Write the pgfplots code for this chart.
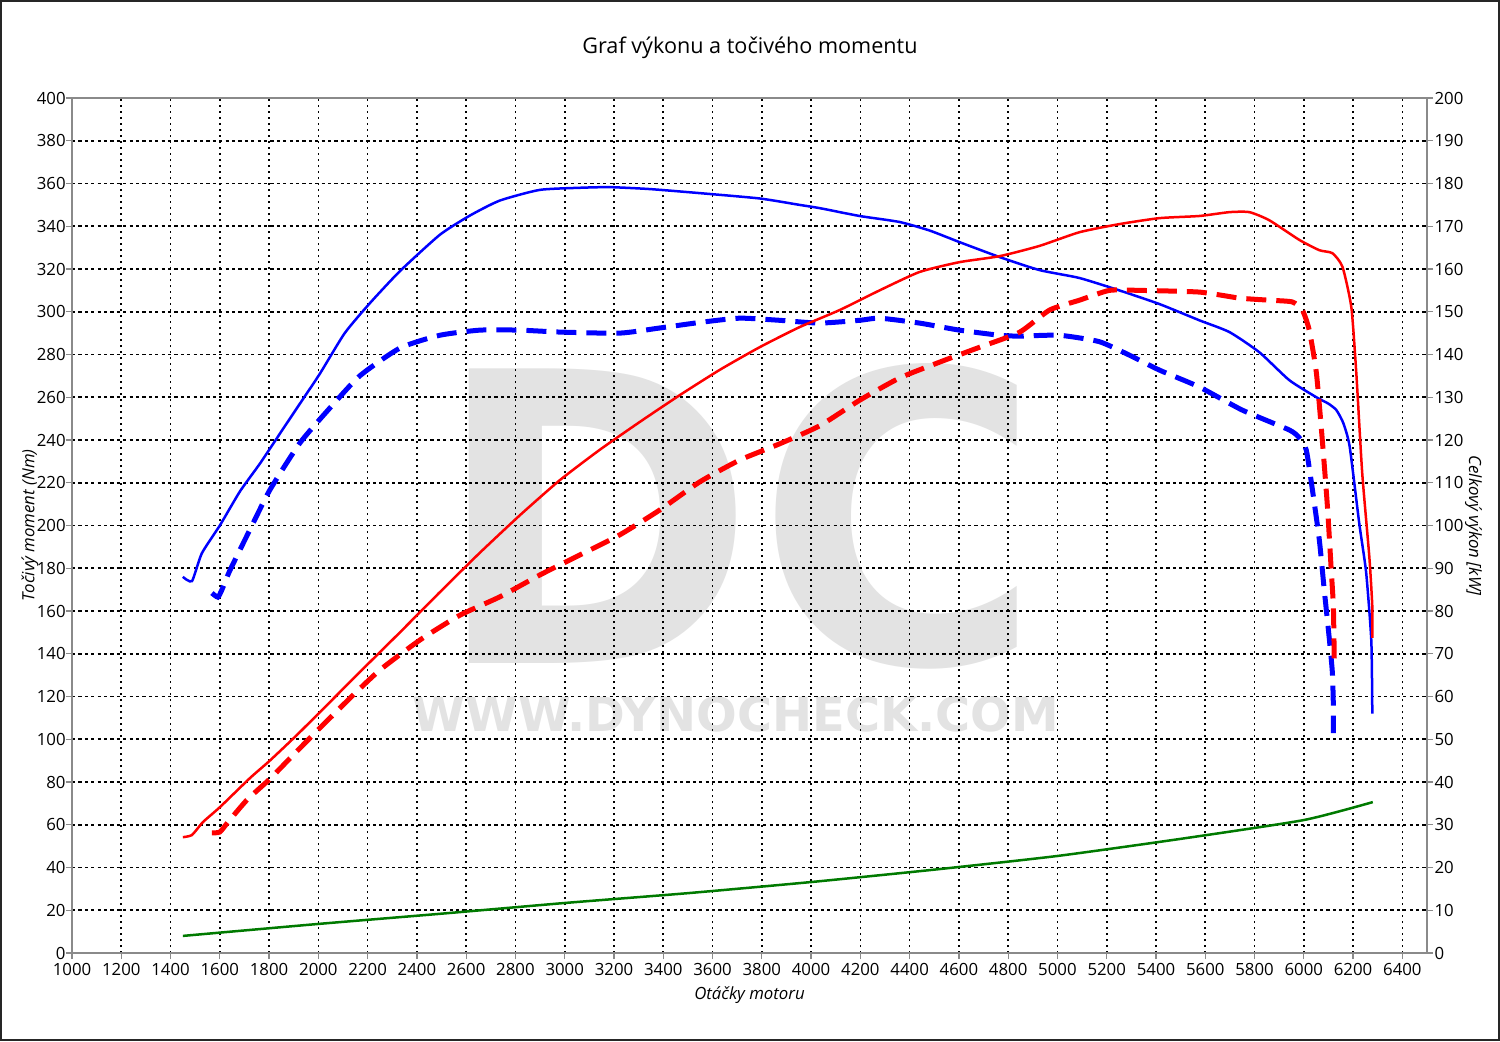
\documentclass[border=0pt]{standalone}
\usepackage{pgfplots}
\pgfplotsset{compat=1.18}
\usepackage{fontspec}
\setmainfont{Open Sans}
\newfontfamily\wmfont{DejaVu Sans}
\definecolor{wm}{HTML}{E3E3E3}
\definecolor{dgreen}{HTML}{007A00}
\definecolor{axgray}{HTML}{8A8A8A}
\pgfplotsset{
  common/.style={
    scale only axis, width=677.5pt, height=427.5pt,
    xmin=1000, xmax=6500,
    tick align=outside, major tick length=3pt,
    tick style={axgray, line width=0.6pt},
    axis line style={axgray, line width=0.6pt},
    tick label style={font=\fontsize{8.4}{10}\selectfont},
    /pgf/number format/assume math mode=true,
    /pgf/number format/set thousands separator={},
    label style={font=\fontsize{8.4}{10}\selectfont\itshape},
  }
}
\begin{document}
\begin{tikzpicture}
\useasboundingbox (-36pt,-44pt) rectangle (714pt,476.5pt);
\fill[white] (-36pt,-44pt) rectangle (714pt,476.5pt);
\draw[line width=1.2pt, black!85] (-35.4pt,-43.4pt) rectangle (713.4pt,475.9pt);
% watermark
\node[text=wm, inner sep=0pt] at (333pt,218.25pt) {\resizebox{304pt}{150pt}{\wmfont\bfseries DC}};
\node[text=wm, inner sep=0pt] at (332pt,119.5pt) {\resizebox{323pt}{17.5pt}{\wmfont\bfseries WWW.DYNOCHECK.COM}};
\node[font=\fontsize{10.8}{12}\selectfont] at (339pt,452.5pt) {Graf výkonu a točivého momentu};
\begin{axis}[common,
  ymin=0, ymax=400,
  xtick={1000,1200,...,6400}, ytick={0,20,...,400},
  xtick pos=bottom, ytick pos=left,
  grid=major,
  x grid style={black, line width=0.8pt, dash pattern=on 1pt off 2pt},
  y grid style={black, line width=0.8pt, dash pattern=on 1.6pt off 1.6pt},
  xticklabel style={inner sep=1.8pt},
  yticklabel style={inner sep=0pt},
  xlabel={Otáčky motoru},
  ylabel={Točivý moment (Nm)},
  xlabel style={inner sep=1pt},
  ylabel style={inner sep=1pt},
  xlabel shift=2.5pt,
  ylabel shift=-2pt,
]
% torque, original (solid)
\addplot[blue, line width=1.25pt, smooth, tension=0.35] coordinates {
(1450,176)(1487,174)(1527,187)(1600,200)(1682,216)(1763,229)(1844,243)(1925,257)(2006,271)(2107,290)(2209,304)(2331,319)(2493,336)(2615,345)(2736,352)(2898,357)(3061,358)(3183,358.3)(3345,357.4)(3548,355.5)(3791,353)(3953,350)(4034,348.5)(4197,344.8)(4359,342)(4481,338)(4602,332.6)(4765,325.6)(4927,319.5)(5089,315.8)(5251,310)(5414,303.6)(5576,296)(5698,290.5)(5820,281)(5941,268)(6051,260)(6100,257)(6132,254)(6160,248)(6186,237)(6225,201)(6253,178)(6274,146)(6278,112)
};
% torque, stock (dashed)
\addplot[blue, line width=2.5pt, dash pattern=on 10pt off 5pt, smooth, tension=0.35] coordinates {
(1568,168.4)(1592,166.5)(1608,169.8)(1641,179)(1722,198)(1803,216.6)(1925,238.6)(2047,255)(2168,270)(2331,283)(2493,289)(2655,291.4)(2818,291.4)(2980,290.5)(3223,290)(3385,292.4)(3548,295)(3710,297)(3872,296)(4034,294.7)(4197,296)(4278,297)(4440,294.7)(4602,291.4)(4765,289)(4846,288.6)(5008,289)(5170,286)(5292,279.7)(5414,272.7)(5576,264.8)(5750,254)(5941,244.7)(5982,241)(6010,235.3)(6035,216.6)(6063,193.2)(6083,169.8)(6104,146.4)(6116,131)(6120,115)(6120,102.9)
};
\end{axis}
\begin{axis}[common,
  ymin=0, ymax=200,
  axis x line=none, axis y line*=right,
  ytick={0,10,...,200},
  yticklabel style={inner sep=0.6pt},
  ylabel={Celkový výkon [kW]},
  ylabel style={rotate=180, inner sep=1pt},
  ylabel shift=-1pt,
]
% power, original (solid)
\addplot[red, line width=1.25pt, smooth, tension=0.35] coordinates {
(1450,27.1)(1487,27.6)(1531,30.6)(1600,34.1)(1722,40.9)(1803,45)(1913,51)(2035,58)(2168,65.7)(2331,75)(2493,84.4)(2655,93.6)(2818,102.4)(2980,110.6)(3142,117.7)(3304,124.2)(3467,130.5)(3629,136.4)(3791,141.7)(3953,146.4)(4116,150.4)(4278,155)(4440,159.3)(4602,161.6)(4765,163)(4927,165.4)(5089,168.6)(5251,170.5)(5414,171.9)(5576,172.4)(5698,173.3)(5779,173.3)(5860,171.4)(5982,166.8)(6063,164.4)(6116,163.7)(6157,160.5)(6193,151)(6213,135.7)(6237,112.3)(6266,92.6)(6278,81)(6278,73.7)
};
% power, stock (dashed)
\addplot[red, line width=2.5pt, dash pattern=on 10pt off 5pt, smooth, tension=0.35] coordinates {
(1568,28.1)(1600,28.3)(1633,30.6)(1710,35.8)(1803,40.7)(1884,45.5)(1966,50.3)(2128,59.6)(2250,66.2)(2412,73.2)(2574,79)(2736,83.3)(2898,88.4)(3061,93.1)(3223,97.8)(3385,103.6)(3548,110.2)(3710,115.3)(3872,119.1)(4034,123.3)(4197,129.3)(4359,134.5)(4521,138.2)(4684,141.7)(4846,145.2)(4968,150.4)(5089,152.7)(5211,155)(5332,155)(5576,154.6)(5738,153.2)(5860,152.7)(5953,152.3)(5994,150.4)(6022,145.7)(6051,135.7)(6075,120)(6096,104.3)(6112,88.9)(6120,81)(6124,67)
};
% loss power
\addplot[dgreen, line width=1.25pt, smooth, tension=0.35] coordinates {
(1450,4.0)(2000,6.8)(2500,9.2)(3000,11.7)(3500,14.0)(4000,16.6)(4500,19.5)(5000,22.7)(5500,26.7)(6000,31.1)(6280,35.3)
};
\end{axis}
\end{tikzpicture}
\end{document}
